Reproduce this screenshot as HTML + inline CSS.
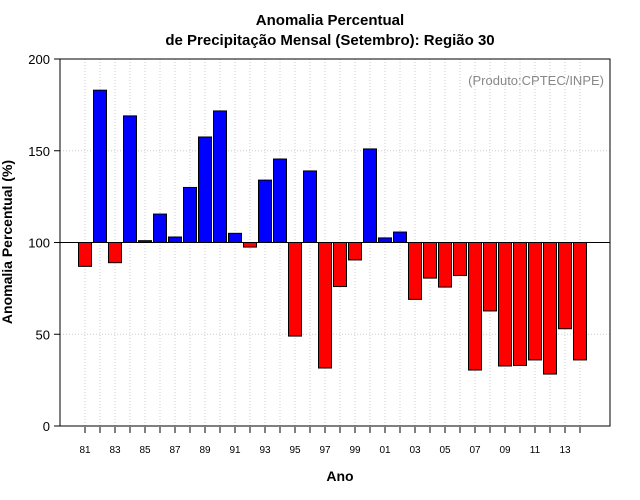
<!DOCTYPE html>
<html><head><meta charset="utf-8"><style>
body{margin:0;background:#fff;}
svg{display:block;font-family:"Liberation Sans",sans-serif;}
</style></head><body>
<svg id="chart" width="640" height="500">
<rect width="640" height="500" fill="#fff"/>
<text x="330" y="25" text-anchor="middle" font-size="15" font-weight="bold">Anomalia Percentual</text>
<text x="330" y="45" text-anchor="middle" font-size="15" font-weight="bold">de Precipitação Mensal (Setembro): Região 30</text>
<g id="grid"></g>
<g id="bars"></g>
<g id="axes"></g>
<text x="604" y="85" text-anchor="end" font-size="13" fill="#888">(Produto:CPTEC/INPE)</text>
<text x="340" y="481" text-anchor="middle" font-size="14" font-weight="bold">Ano</text>
<text transform="translate(12,242) rotate(-90)" text-anchor="middle" font-size="14" font-weight="bold">Anomalia Percentual (%)</text>
</svg>
<script>
const years = [1981,1982,1983,1984,1985,1986,1987,1988,1989,1990,1991,1992,1993,1994,1995,1996,1997,1998,1999,2000,2001,2002,2003,2004,2005,2006,2007,2008,2009,2010,2011,2012,2013,2014];
const values = [87,183,89,169,101,115.5,103,130,157.5,171.7,105,97.5,134,145.5,49,139,31.6,76,90.5,151,102.5,105.7,69,80.6,75.7,82,30.5,62.7,32.7,33,36,28.3,53,36];
const yTicks = [0,50,100,150,200];
const baseline = 100;
const NS="http://www.w3.org/2000/svg";
const L=60,R=610,T=59,B=426;
const y=v=>B-(v/200)*(B-T);
const x=i=>85+i*15;
const grid=document.getElementById('grid'),bars=document.getElementById('bars'),axes=document.getElementById('axes');
function mk(tag,attrs,parent){const e=document.createElementNS(NS,tag);for(const k in attrs)e.setAttribute(k,attrs[k]);parent.appendChild(e);return e;}
years.forEach((yr,i)=>{const g=mk('line',{x1:x(i),x2:x(i),y1:T,y2:B,stroke:'#ccc','stroke-dasharray':'1,2'},grid);

});
yTicks.forEach(t=>{if(t>0&&t<200){const g=mk('line',{x1:L,x2:R,y1:y(t),y2:y(t),stroke:'#ccc','stroke-dasharray':'1,2'},grid);

}
const tk=mk('line',{x1:L-6,x2:L,y1:y(t),y2:y(t),stroke:'#000'},axes);


const lb=mk('text',{x:L-10,y:y(t)+5,'text-anchor':'end','font-size':'13'},axes);lb.textContent=t;

});
values.forEach((v,i)=>{const top=Math.min(y(v),y(baseline)),h=Math.abs(y(v)-y(baseline));
const r=mk('rect',{x:x(i)-6.5,y:top,width:13,height:h,fill:v>=baseline?'#0000ff':'#ff0000',stroke:'#000','stroke-width':1},bars);


const tk=mk('line',{x1:x(i),x2:x(i),y1:B+1,y2:B+7,stroke:'#000'},axes);


if(i%2===0){const lb=mk('text',{x:x(i),y:B+27,'text-anchor':'middle','font-size':'10'},axes);lb.textContent=String(years[i]%100).padStart(2,'0');

}});
const bl=mk('line',{x1:L,x2:R,y1:y(baseline),y2:y(baseline),stroke:'#000'},axes);


const fr=mk('rect',{x:L,y:T,width:R-L,height:B-T,fill:'none',stroke:'#000'},axes);


</script>
</body></html>
